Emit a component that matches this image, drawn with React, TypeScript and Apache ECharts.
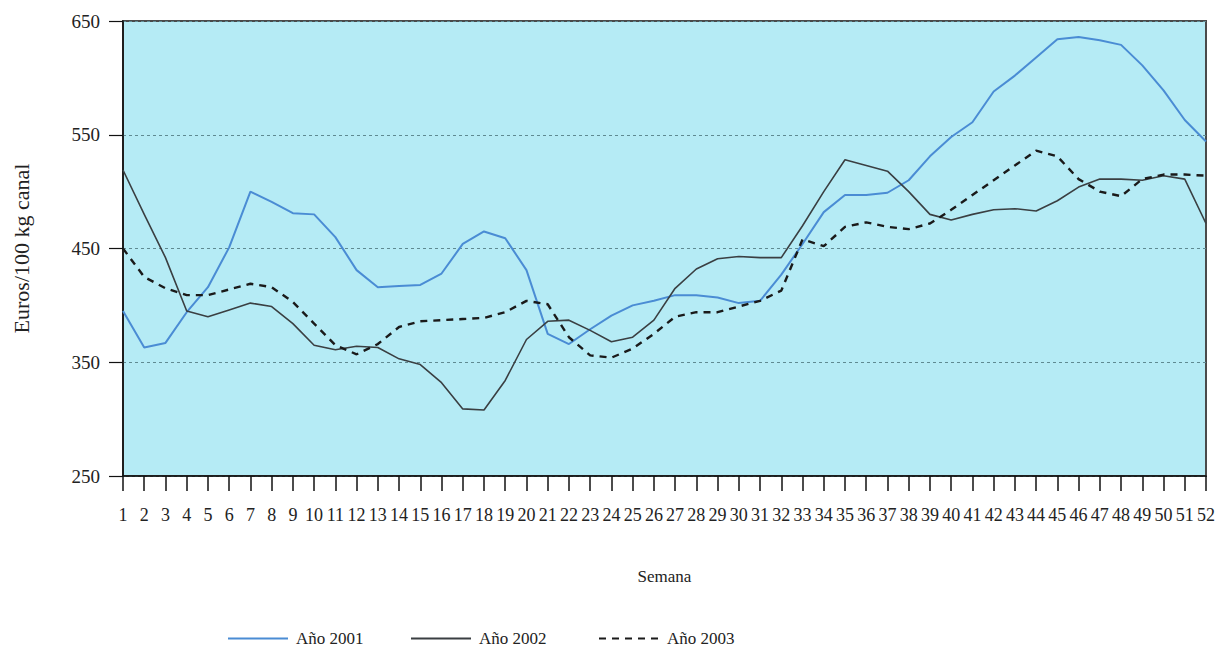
import React, { useEffect, useRef } from "react";
import * as echarts from "echarts";

const weeks: string[] = Array.from({ length: 52 }, (_, i) => String(i + 1));

const yTicks = { min: 250, max: 650, interval: 100 };

const year2001: number[] = [
  395, 363, 367, 394, 416, 451, 500, 491, 481, 480,
  460, 431, 416, 417, 418, 428, 454, 465, 459, 431,
  375, 366, 379, 391, 400, 404, 409, 409, 407, 402,
  404, 427, 454, 482, 497, 497, 499, 510, 531, 548,
  561, 588, 602, 618, 634, 636, 633, 629, 611, 589,
  563, 544,
];

const year2002: number[] = [
  519, 480, 442, 395, 390, 396, 402, 399, 384, 365,
  361, 364, 363, 353, 348, 332, 309, 308, 334, 370,
  386, 387, 378, 368, 372, 387, 415, 432, 441, 443,
  442, 442, 470, 500, 528, 523, 518, 500, 480, 475,
  480, 484, 485, 483, 492, 504, 511, 511, 510, 514,
  511, 472,
];

const year2003: number[] = [
  450, 425, 415, 409, 409, 414, 419, 416, 403, 384,
  365, 357, 366, 381, 386, 387, 388, 389, 394, 404,
  401, 372, 356, 354, 362, 375, 390, 394, 394, 399,
  404, 413, 458, 452, 469, 473, 469, 467, 472, 484,
  497, 510, 523, 536, 531, 511, 500, 496, 511, 515,
  515, 514,
];

const seriesNames = ["Año 2001", "Año 2002", "Año 2003"];
const legendLefts = [222, 405, 593];

const FONT = "'Liberation Serif', 'DejaVu Serif', serif";

export default function App() {
  const ref = useRef<HTMLDivElement>(null);

  useEffect(() => {
    if (!ref.current) return;
    const chart = echarts.init(ref.current, undefined, { renderer: "svg" });
    chart.setOption({
      animation: false,
      backgroundColor: "#ffffff",
      textStyle: { fontFamily: FONT, color: "#222" },
      grid: {
        left: 123,
        right: 11,
        top: 21,
        bottom: 171,
        show: true,
        backgroundColor: "#b5ebf5",
        borderColor: "#4a4a4a",
        borderWidth: 2,
      },
      legend: seriesNames.map((n, i) => ({
        top: 625,
        left: legendLefts[i],
        itemWidth: 60,
        itemHeight: 10,
        itemGap: 0,
        selectedMode: false,
        itemStyle: { color: "rgba(0,0,0,0)", borderColor: "rgba(0,0,0,0)", borderWidth: 0 },
        textStyle: { fontFamily: FONT, fontSize: 17, color: "#222", padding: [0, 0, 0, 3] },
        data: [n],
      })),
      xAxis: {
        type: "category",
        data: weeks,
        boundaryGap: false,
        name: "Semana",
        nameLocation: "middle",
        nameGap: 92,
        nameTextStyle: { fontFamily: FONT, fontSize: 17, color: "#222" },
        axisLine: { show: true, onZero: false, lineStyle: { color: "#111", width: 1.5 } },
        axisTick: { show: true, interval: 0, length: 15, lineStyle: { color: "#111", width: 1.5 } },
        axisLabel: { interval: 0, fontFamily: FONT, fontSize: 18, color: "#222", margin: 30 },
        splitLine: { show: false },
      },
      yAxis: {
        type: "value",
        min: yTicks.min,
        max: yTicks.max,
        interval: yTicks.interval,
        name: "Euros/100 kg canal",
        nameLocation: "middle",
        nameGap: 91,
        nameTextStyle: { fontFamily: FONT, fontSize: 22, color: "#222" },
        axisLine: { show: true, lineStyle: { color: "#111", width: 1.5 } },
        axisTick: { show: true, length: 14, lineStyle: { color: "#111", width: 1.2 } },
        axisLabel: { fontFamily: FONT, fontSize: 19, color: "#222", margin: 23 },
        splitLine: { show: true, lineStyle: { color: "#5f8a92", width: 1, type: [3, 3] } },
      },
      series: [
        {
          name: seriesNames[0],
          type: "line",
          data: year2001,
          symbol: "none",
          lineStyle: { color: "#4a8cd4", width: 2 },
          itemStyle: { color: "#4a8cd4" },
        },
        {
          name: seriesNames[1],
          type: "line",
          data: year2002,
          symbol: "none",
          lineStyle: { color: "#3a3f42", width: 1.6 },
          itemStyle: { color: "#3a3f42" },
        },
        {
          name: seriesNames[2],
          type: "line",
          data: year2003,
          symbol: "none",
          lineStyle: { color: "#1a1a1a", width: 2.4, type: [7, 6] },
          itemStyle: { color: "#1a1a1a" },
        },
      ],
    });
    return () => chart.dispose();
  }, []);

  return (
    <div
      ref={ref}
      style={{ position: "fixed", left: 0, top: 0, width: 1218, height: 647 }}
    />
  );
}
